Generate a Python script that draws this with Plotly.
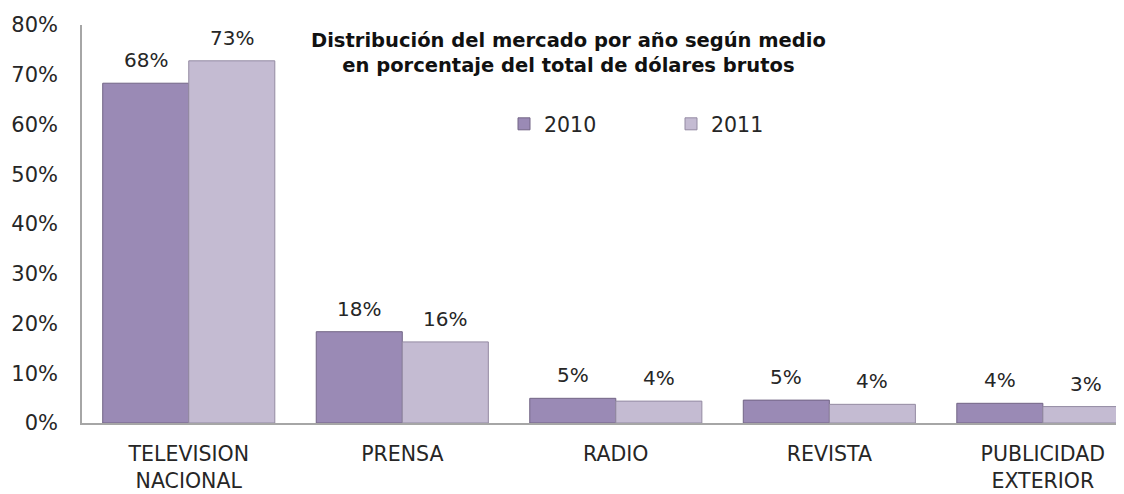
import plotly.graph_objects as go

categories = ["TELEVISION<br>NACIONAL", "PRENSA", "RADIO", "REVISTA", "PUBLICIDAD<br>EXTERIOR"]
values_2010 = [0.683, 0.1835, 0.0496, 0.046, 0.0396]
values_2011 = [0.728, 0.163, 0.044, 0.0375, 0.033]
series_names = ["2010", "2011"]
y_ticks = [0, 0.1, 0.2, 0.3, 0.4, 0.5, 0.6, 0.7, 0.8]

FONT = "DejaVu Sans"
TXT = "#262626"

W, H = 1116, 486
L, T, B, R = 74, 17, 71, 0
PW = W - L - R
PH = H - T - B

fig = go.Figure()
fig.add_trace(go.Bar(
    x=categories, y=values_2010, name=series_names[0],
    marker=dict(color="#9a8ab5", line=dict(color="#726585", width=1)),
))
fig.add_trace(go.Bar(
    x=categories, y=values_2011, name=series_names[1],
    marker=dict(color="#c4bbd2", line=dict(color="#938aa2", width=1)),
))

for vals, shift in ((values_2010, -43), (values_2011, 43)):
    for c, v in zip(categories, vals):
        fig.add_annotation(x=c, y=v, xref="x", yref="y", text=f"{v:.0%}",
                           showarrow=False, xshift=shift, yshift=9,
                           yanchor="bottom",
                           font=dict(family=FONT, size=20, color=TXT))

fig.add_annotation(
    text="<b>Distribución del mercado por año según medio<br>en porcentaje del total de dólares brutos</b>",
    xref="paper", yref="paper", x=(560 - L) / PW, y=0.995, yanchor="top",
    xanchor="center", showarrow=False, align="center",
    font=dict(family=FONT, size=19.5, color="#111111"),
)

fig.update_layout(
    width=W, height=H,
    margin=dict(l=L, r=R, t=T, b=B, autoexpand=False),
    paper_bgcolor="white", plot_bgcolor="white",
    barmode="group", bargap=0.194, bargroupgap=0,
    showlegend=True,
    legend=dict(orientation="h", x=(496 - L) / PW, y=1 - (116 - T) / PH,
                xanchor="left", yanchor="middle",
                font=dict(family=FONT, size=20.5, color=TXT),
                entrywidth=122, bgcolor="rgba(0,0,0,0)"),
    font=dict(family=FONT, color=TXT),
)
fig.update_xaxes(
    range=[-0.5, 4.38], showline=True, linecolor="#a6a6a6", linewidth=1.5,
    ticks="", tickfont=dict(family=FONT, size=20.5, color=TXT),
    ticklabelstandoff=12, showgrid=False, automargin=False,
)
fig.update_yaxes(
    range=[0, 0.8], tickvals=y_ticks, tickformat=".0%",
    showline=True, linecolor="#a6a6a6", linewidth=1.5, showgrid=False,
    zeroline=False, ticks="", ticklabelstandoff=18, automargin=False,
    tickfont=dict(family=FONT, size=21, color=TXT),
)

fig.write_html("out.html")
